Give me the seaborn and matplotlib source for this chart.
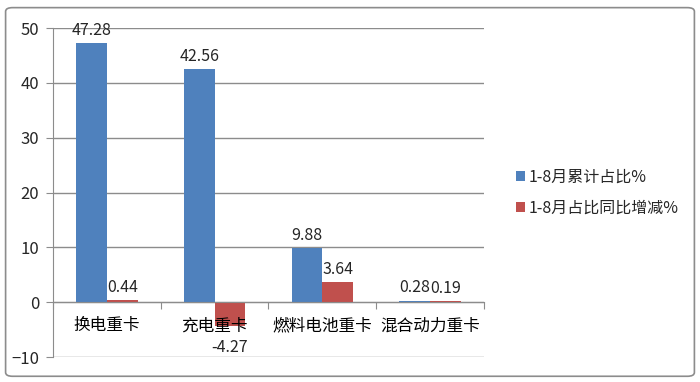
import matplotlib
matplotlib.use("Agg")
import matplotlib.pyplot as plt
import seaborn as sns
import pandas as pd
from matplotlib.patches import FancyBboxPatch

categories = ["换电重卡", "充电重卡", "燃料电池重卡", "混合动力重卡"]
share = [47.28, 42.56, 9.88, 0.28]
change = [0.44, -4.27, 3.64, 0.19]
series = ["1-8月累计占比%", "1-8月占比同比增减%"]
colors = ["#4F81BD", "#C0504D"]

df = pd.DataFrame({
    "cat": categories * 2,
    "series": [series[0]] * 4 + [series[1]] * 4,
    "value": share + change,
})

sns.set_style("white")
plt.rcParams["font.family"] = ["Noto Sans CJK SC", "DejaVu Sans"]

fig = plt.figure(figsize=(7, 3.82), dpi=100)
ax = fig.add_axes([0.0757, 0.0654, 0.6157, 0.8613])

sns.barplot(data=df, x="cat", y="value", hue="series", palette=colors,
            width=0.57, saturation=1, ax=ax, legend=True, linewidth=0)

ax.set_ylim(-10, 50)
ax.set_xlim(-0.5, 3.5)
ax.set_yticks(range(-10, 51, 10))
ax.yaxis.grid(True, color="#8c8c8c", linewidth=1)
ax.set_axisbelow(True)
ax.set_xlabel("")
ax.set_ylabel("")

for s in ["top", "right"]:
    ax.spines[s].set_visible(False)
ax.spines["left"].set_color("#8c8c8c")
ax.spines["bottom"].set_color("#8c8c8c")
ax.spines["bottom"].set_position(("data", 0))

# category boundary ticks on the zero line
ax.set_xticks([-0.5, 0.5, 1.5, 2.5, 3.5])
ax.set_xticklabels([])
ax.tick_params(axis="x", length=5, color="#8c8c8c", direction="out", bottom=True)
ax.tick_params(axis="y", length=5, color="#8c8c8c", direction="out", left=True,
               labelsize=12, pad=5)
for i, c in enumerate(categories):
    ax.text(i, -4.3, c, ha="center", va="center", fontsize=12, color="#000000")

for cont, vals in zip(ax.containers, [share, change]):
    for bar, v in zip(cont, vals):
        x = bar.get_x() + bar.get_width() / 2
        if v >= 0:
            ax.annotate(f"{v:.2f}", (x, v), xytext=(0, 3), textcoords="offset points",
                        ha="center", va="bottom", fontsize=11.5)
        else:
            ax.annotate(f"{v:.2f}", (x, v), xytext=(0, -10), textcoords="offset points",
                        ha="center", va="top", fontsize=11.5)

ax.legend(loc="center left", bbox_to_anchor=(1.04, 0.5), frameon=False,
          fontsize=11.5, handlelength=0.6, handleheight=0.6, handletextpad=0.2,
          labelspacing=0.9)

frame = FancyBboxPatch((0.008, 0.015), 0.984, 0.965, boxstyle="round,pad=0,rounding_size=0.01",
                       transform=fig.transFigure, fill=False, edgecolor="#8c8c8c",
                       linewidth=1.2)
fig.patches.append(frame)

fig.savefig("out.png", dpi=100)
